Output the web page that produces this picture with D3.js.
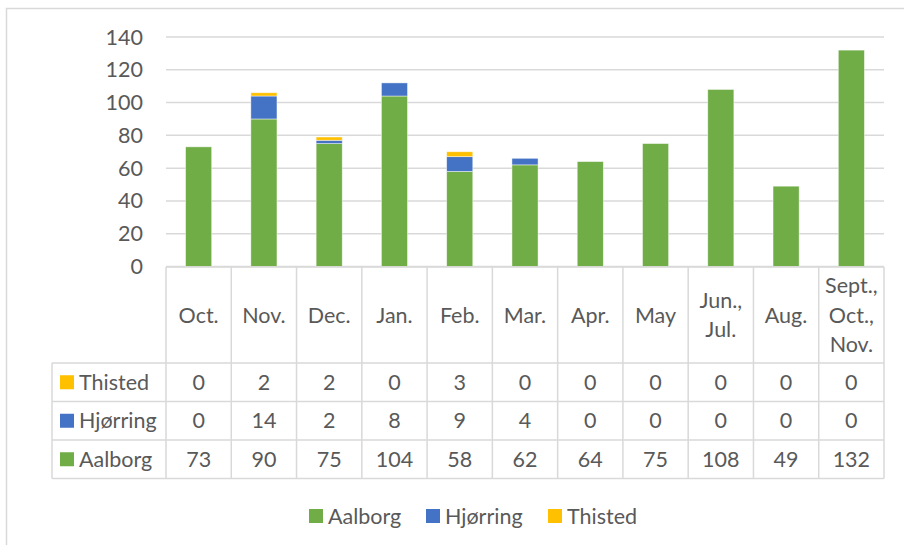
<!DOCTYPE html>
<html>
<head>
<meta charset="utf-8">
<script src="https://cdn.jsdelivr.net/npm/d3@7"></script>
<style>
  body { margin: 0; background: #fff; }
  text { font-family: Lato, "Open Sans", sans-serif; fill: #595959; font-size: 21.5px; }
</style>
</head>
<body>
<div class="chart"></div>
<script>
//////////////// DATA ////////////////
var categories = ["Oct.", "Nov.", "Dec.", "Jan.", "Feb.", "Mar.", "Apr.", "May", "Jun.,\nJul.", "Aug.", "Sept.,\nOct.,\nNov."];
var aalborg = [73, 90, 75, 104, 58, 62, 64, 75, 108, 49, 132];
var hjorring = [0, 14, 2, 8, 9, 4, 0, 0, 0, 0, 0];
var thisted = [0, 2, 2, 0, 3, 0, 0, 0, 0, 0, 0];
var yTicks = [0, 20, 40, 60, 80, 100, 120, 140];

var seriesNames = ["Aalborg", "Hjørring", "Thisted"];
var seriesKeys = ["aalborg", "hjorring", "thisted"];
var colors = {aalborg: "#70AD47", hjorring: "#4472C4", thisted: "#FFC000"};

//////////////// CHART AREA ////////////////
var svgWidth = 904;
var svgHeight = 545;

var plot = {left: 166, right: 884, top: 37, bottom: 266.5};
var table = {left: 52, headerTop: 267, headerBottom: 363, rowH: 38.5};
var gridColor = "#d9d9d9";

var svg = d3.select(".chart")
  .append("svg")
  .attr("width", svgWidth)
  .attr("height", svgHeight);

// outer chart border (runs off the right / bottom of the picture)
svg.append("rect")
  .attr("x", 6.5).attr("y", 8.5)
  .attr("width", svgWidth).attr("height", svgHeight)
  .attr("fill", "none")
  .attr("stroke", gridColor)
  .attr("stroke-width", 1.5);

// build rows for the stack
var rows = categories.map((c, i) => ({cat: c, aalborg: aalborg[i], hjorring: hjorring[i], thisted: thisted[i]}));
var stacked = d3.stack().keys(seriesKeys)(rows);

var xScale = d3.scaleBand()
  .domain(categories)
  .range([plot.left, plot.right])
  .paddingInner(0.6)
  .paddingOuter(0.3);

var colScale = d3.scaleBand()
  .domain(categories)
  .range([plot.left, plot.right]);

var yScale = d3.scaleLinear()
  .domain([0, 140])
  .range([plot.bottom, plot.top]);

//////////////// GRID + Y AXIS ////////////////
svg.append("g").selectAll("line")
  .data(yTicks)
  .enter()
  .append("line")
  .attr("x1", plot.left).attr("x2", plot.right)
  .attr("y1", d => yScale(d)).attr("y2", d => yScale(d))
  .attr("stroke", gridColor)
  .attr("stroke-width", 1.5);

svg.append("g").selectAll("text")
  .data(yTicks)
  .enter()
  .append("text")
  .attr("x", 143)
  .attr("y", d => yScale(d))
  .attr("dy", "0.35em")
  .attr("text-anchor", "end")
  .text(d => d);

//////////////// BARS ////////////////
svg.append("g").selectAll("g")
  .data(stacked)
  .enter()
  .append("g")
  .attr("fill", d => colors[d.key])
  .selectAll("rect")
  .data(d => d.filter(p => p[1] > p[0]))
  .enter()
  .append("rect")
  .attr("x", d => xScale(d.data.cat))
  .attr("width", xScale.bandwidth())
  .attr("y", d => yScale(d[1]))
  .attr("height", d => yScale(d[0]) - yScale(d[1]))
  .attr("stroke", "rgba(255,255,255,0.6)")
  .attr("stroke-width", 0.75);

//////////////// DATA TABLE ////////////////
var tableRows = [
  {name: "Thisted", key: "thisted", values: thisted},
  {name: "Hjørring", key: "hjorring", values: hjorring},
  {name: "Aalborg", key: "aalborg", values: aalborg}
];
var tableBottom = table.headerBottom + table.rowH * tableRows.length;
var tg = svg.append("g");

// horizontal lines
tg.append("line")
  .attr("x1", plot.left).attr("x2", plot.right)
  .attr("y1", table.headerTop).attr("y2", table.headerTop);
d3.range(tableRows.length + 1).forEach(i => {
  var y = table.headerBottom + i * table.rowH;
  tg.append("line")
    .attr("x1", table.left).attr("x2", plot.right)
    .attr("y1", y).attr("y2", y);
});
// vertical lines
tg.append("line")
  .attr("x1", table.left).attr("x2", table.left)
  .attr("y1", table.headerBottom).attr("y2", tableBottom);
categories.concat(["end"]).forEach((c, i) => {
  var x = plot.left + i * colScale.bandwidth();
  tg.append("line")
    .attr("x1", x).attr("x2", x)
    .attr("y1", table.headerTop).attr("y2", tableBottom);
});
tg.selectAll("line")
  .attr("stroke", gridColor)
  .attr("stroke-width", 1.5);

// header labels
var headerMid = (table.headerTop + table.headerBottom) / 2;
var lineH = 29.5;
categories.forEach(c => {
  var parts = c.split("\n");
  var t = tg.append("text")
    .attr("text-anchor", "middle");
  parts.forEach((p, j) => {
    t.append("tspan")
      .attr("x", colScale(c) + colScale.bandwidth() / 2)
      .attr("y", headerMid + (j - (parts.length - 1) / 2) * lineH)
      .attr("dy", "0.35em")
      .text(p);
  });
});

// rows
tableRows.forEach((r, i) => {
  var yMid = table.headerBottom + (i + 0.5) * table.rowH;
  tg.append("rect")
    .attr("x", 60).attr("y", yMid - 7)
    .attr("width", 14).attr("height", 14)
    .attr("fill", colors[r.key]);
  tg.append("text")
    .attr("x", 79).attr("y", yMid)
    .attr("dy", "0.35em")
    .text(r.name);
  r.values.forEach((v, j) => {
    tg.append("text")
      .attr("x", colScale(categories[j]) + colScale.bandwidth() / 2)
      .attr("y", yMid)
      .attr("dy", "0.35em")
      .attr("text-anchor", "middle")
      .text(v);
  });
});

//////////////// LEGEND ////////////////
var legendX = [309, 426, 548];
var legend = svg.append("g").selectAll("g")
  .data(seriesKeys)
  .enter()
  .append("g")
  .attr("transform", (d, i) => `translate(${legendX[i]}, 516)`);

legend.append("rect")
  .attr("x", 0).attr("y", -7)
  .attr("width", 14).attr("height", 14)
  .attr("fill", d => colors[d]);

legend.append("text")
  .attr("x", 19)
  .attr("dy", "0.35em")
  .text((d, i) => seriesNames[i]);
</script>
</body>
</html>
